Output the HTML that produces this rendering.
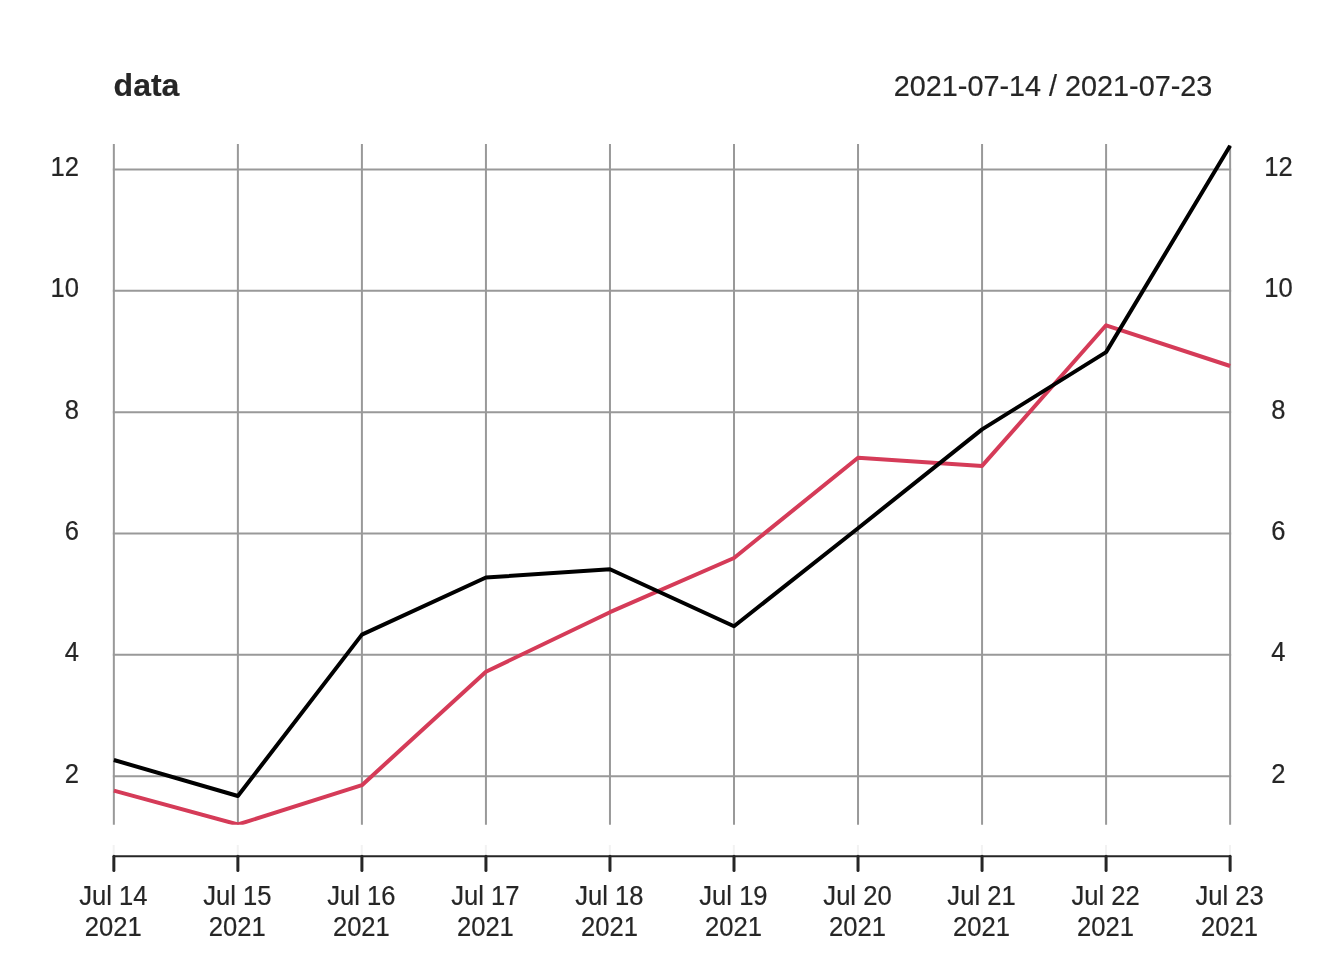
<!DOCTYPE html>
<html lang="en"><head><meta charset="utf-8"><title>data</title>
<style>
html,body{margin:0;padding:0;background:#fff;}
body{width:1344px;height:960px;overflow:hidden;}
svg{display:block;}
text{stroke:#262626;stroke-width:0.2px;font-family:"Liberation Sans",Arial,Helvetica,sans-serif;fill:#262626;}
.ax{font-size:25.6px;}
.title{font-size:32px;font-weight:bold;}
.date{font-size:28.8px;}
</style></head><body>
<svg width="1344" height="960" viewBox="0 0 1344 960">
<rect width="1344" height="960" fill="#ffffff"/>
<defs><clipPath id="plotclip"><rect x="100" y="130" width="1144" height="694.80"/></clipPath></defs>

<g stroke="#999999" stroke-width="2" fill="none">
<line x1="113.85" y1="144.06" x2="113.85" y2="824.8"/>
<line x1="237.88" y1="144.06" x2="237.88" y2="824.8"/>
<line x1="361.91" y1="144.06" x2="361.91" y2="824.8"/>
<line x1="485.94" y1="144.06" x2="485.94" y2="824.8"/>
<line x1="609.97" y1="144.06" x2="609.97" y2="824.8"/>
<line x1="734.0" y1="144.06" x2="734.0" y2="824.8"/>
<line x1="858.03" y1="144.06" x2="858.03" y2="824.8"/>
<line x1="982.06" y1="144.06" x2="982.06" y2="824.8"/>
<line x1="1106.09" y1="144.06" x2="1106.09" y2="824.8"/>
<line x1="1230.12" y1="145.3" x2="1230.12" y2="824.8"/>
<line x1="112.85" y1="776.15" x2="1231.12" y2="776.15"/>
<line x1="112.85" y1="654.81" x2="1231.12" y2="654.81"/>
<line x1="112.85" y1="533.47" x2="1231.12" y2="533.47"/>
<line x1="112.85" y1="412.13" x2="1231.12" y2="412.13"/>
<line x1="112.85" y1="290.79" x2="1231.12" y2="290.79"/>
<line x1="112.85" y1="169.45" x2="1231.12" y2="169.45"/>
</g>
<g stroke="#f2f2f2" stroke-width="2">
<line x1="113.70" y1="845" x2="113.70" y2="855"/>
<line x1="237.73" y1="845" x2="237.73" y2="855"/>
<line x1="361.76" y1="845" x2="361.76" y2="855"/>
<line x1="485.79" y1="845" x2="485.79" y2="855"/>
<line x1="609.82" y1="845" x2="609.82" y2="855"/>
<line x1="733.85" y1="845" x2="733.85" y2="855"/>
<line x1="857.88" y1="845" x2="857.88" y2="855"/>
<line x1="981.91" y1="845" x2="981.91" y2="855"/>
<line x1="1105.94" y1="845" x2="1105.94" y2="855"/>
<line x1="1229.97" y1="845" x2="1229.97" y2="855"/>
</g>
<g clip-path="url(#plotclip)">
<polyline points="113.85,790.6 237.88,824.5 361.91,785.2 485.94,671.7 609.97,612.2 734.0,558.0 858.03,457.8 982.06,465.9 1106.09,325.3 1230.12,366.0" fill="none" stroke="#D53B58" stroke-width="4" stroke-linejoin="round" stroke-linecap="butt"/>
<polyline points="113.85,760.0 237.88,796.0 361.91,634.6 485.94,577.5 609.97,569.2 734.0,626.3 858.03,528.2 982.06,429.4 1106.09,352.1 1230.12,145.8" fill="none" stroke="#000000" stroke-width="4" stroke-linejoin="round" stroke-linecap="butt"/>
</g>
<line x1="113.85" y1="856.3" x2="1230.12" y2="856.3" stroke="#262626" stroke-width="2"/>
<g stroke="#262626" stroke-width="3" stroke-linecap="round">
<line x1="113.85" y1="856.3" x2="113.85" y2="870.4"/>
<line x1="237.88" y1="856.3" x2="237.88" y2="870.4"/>
<line x1="361.91" y1="856.3" x2="361.91" y2="870.4"/>
<line x1="485.94" y1="856.3" x2="485.94" y2="870.4"/>
<line x1="609.97" y1="856.3" x2="609.97" y2="870.4"/>
<line x1="734.00" y1="856.3" x2="734.00" y2="870.4"/>
<line x1="858.03" y1="856.3" x2="858.03" y2="870.4"/>
<line x1="982.06" y1="856.3" x2="982.06" y2="870.4"/>
<line x1="1106.09" y1="856.3" x2="1106.09" y2="870.4"/>
<line x1="1230.12" y1="856.3" x2="1230.12" y2="870.4"/>
</g>
<g class="ax" text-anchor="middle">
<text class="ax" text-anchor="middle" transform="translate(113.30,904.80) scale(1,1.045)">Jul 14</text><text class="ax" text-anchor="middle" transform="translate(113.30,935.70) scale(1,1.045)">2021</text>
<text class="ax" text-anchor="middle" transform="translate(237.33,904.80) scale(1,1.045)">Jul 15</text><text class="ax" text-anchor="middle" transform="translate(237.33,935.70) scale(1,1.045)">2021</text>
<text class="ax" text-anchor="middle" transform="translate(361.36,904.80) scale(1,1.045)">Jul 16</text><text class="ax" text-anchor="middle" transform="translate(361.36,935.70) scale(1,1.045)">2021</text>
<text class="ax" text-anchor="middle" transform="translate(485.39,904.80) scale(1,1.045)">Jul 17</text><text class="ax" text-anchor="middle" transform="translate(485.39,935.70) scale(1,1.045)">2021</text>
<text class="ax" text-anchor="middle" transform="translate(609.42,904.80) scale(1,1.045)">Jul 18</text><text class="ax" text-anchor="middle" transform="translate(609.42,935.70) scale(1,1.045)">2021</text>
<text class="ax" text-anchor="middle" transform="translate(733.45,904.80) scale(1,1.045)">Jul 19</text><text class="ax" text-anchor="middle" transform="translate(733.45,935.70) scale(1,1.045)">2021</text>
<text class="ax" text-anchor="middle" transform="translate(857.48,904.80) scale(1,1.045)">Jul 20</text><text class="ax" text-anchor="middle" transform="translate(857.48,935.70) scale(1,1.045)">2021</text>
<text class="ax" text-anchor="middle" transform="translate(981.51,904.80) scale(1,1.045)">Jul 21</text><text class="ax" text-anchor="middle" transform="translate(981.51,935.70) scale(1,1.045)">2021</text>
<text class="ax" text-anchor="middle" transform="translate(1105.54,904.80) scale(1,1.045)">Jul 22</text><text class="ax" text-anchor="middle" transform="translate(1105.54,935.70) scale(1,1.045)">2021</text>
<text class="ax" text-anchor="middle" transform="translate(1229.57,904.80) scale(1,1.045)">Jul 23</text><text class="ax" text-anchor="middle" transform="translate(1229.57,935.70) scale(1,1.045)">2021</text>
</g>
<g class="ax" text-anchor="end">
<text class="ax" text-anchor="end" transform="translate(79.00,782.60) scale(1,1.045)">2</text>
<text class="ax" text-anchor="end" transform="translate(79.00,661.26) scale(1,1.045)">4</text>
<text class="ax" text-anchor="end" transform="translate(79.00,539.92) scale(1,1.045)">6</text>
<text class="ax" text-anchor="end" transform="translate(79.00,418.58) scale(1,1.045)">8</text>
<text class="ax" text-anchor="end" transform="translate(79.00,297.24) scale(1,1.045)">10</text>
<text class="ax" text-anchor="end" transform="translate(79.00,175.90) scale(1,1.045)">12</text>
</g>
<g class="ax" text-anchor="start">
<text class="ax" text-anchor="middle" transform="translate(1278.40,782.60) scale(1,1.045)">2</text>
<text class="ax" text-anchor="middle" transform="translate(1278.40,661.26) scale(1,1.045)">4</text>
<text class="ax" text-anchor="middle" transform="translate(1278.40,539.92) scale(1,1.045)">6</text>
<text class="ax" text-anchor="middle" transform="translate(1278.40,418.58) scale(1,1.045)">8</text>
<text class="ax" text-anchor="middle" transform="translate(1278.40,297.24) scale(1,1.045)">10</text>
<text class="ax" text-anchor="middle" transform="translate(1278.40,175.90) scale(1,1.045)">12</text>
</g>
<text class="title" x="113.6" y="95.7">data</text>
<text class="date" text-anchor="end" transform="translate(1212.30,95.60) scale(1,1.045)">2021-07-14 / 2021-07-23</text>
</svg></body></html>
